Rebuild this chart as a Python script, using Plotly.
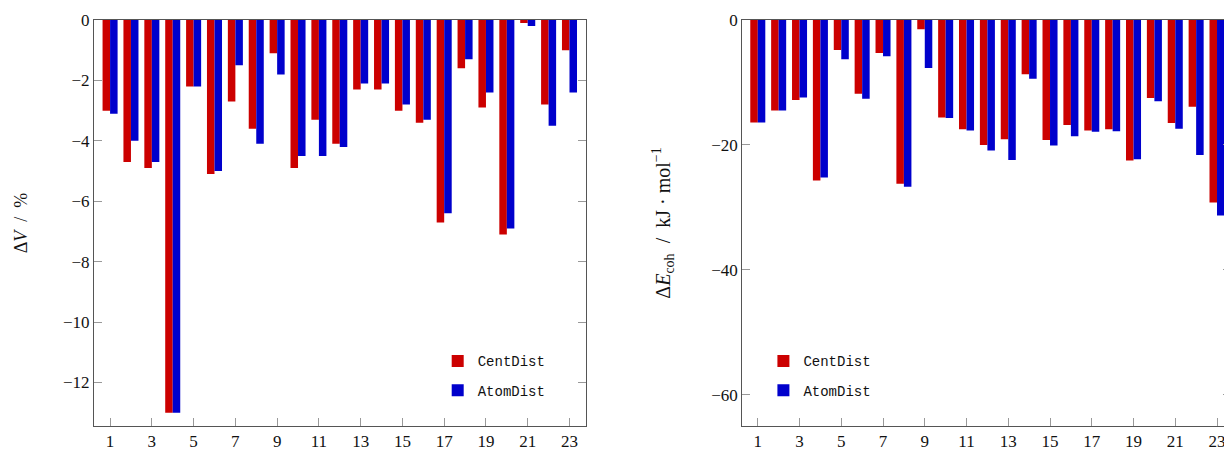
import plotly.graph_objects as go

categories = list(range(1, 24))
dv_cent = [-3.0, -4.7, -4.9, -13.0, -2.2, -5.1, -2.7, -3.6, -1.1, -4.9, -3.3, -4.1,
           -2.3, -2.3, -3.0, -3.4, -6.7, -1.6, -2.9, -7.1, -0.1, -2.8, -1.0]
dv_atom = [-3.1, -4.0, -4.7, -13.0, -2.2, -5.0, -1.5, -4.1, -1.8, -4.5, -4.5, -4.2,
           -2.1, -2.1, -2.8, -3.3, -6.4, -1.3, -2.4, -6.9, -0.2, -3.5, -2.4]
de_cent = [-16.4, -14.5, -12.8, -25.7, -4.8, -11.8, -5.3, -26.2, -1.5, -15.6, -17.5, -20.0,
           -19.1, -8.7, -19.2, -16.8, -17.7, -17.5, -22.5, -12.5, -16.5, -13.9, -29.2]
de_atom = [-16.4, -14.5, -12.4, -25.2, -6.3, -12.6, -5.8, -26.7, -7.7, -15.7, -17.7, -20.9,
           -22.4, -9.4, -20.1, -18.6, -17.9, -17.8, -22.3, -13.0, -17.4, -21.6, -31.3]
x_ticks = list(range(1, 24, 2))

RED = "#cc0000"
BLUE = "#0000cc"
FONT = "Liberation Serif"
MONO = "Liberation Mono"

fig = go.Figure()
fig.add_trace(go.Bar(x=categories, y=dv_cent, name="CentDist", marker=dict(color=RED, line=dict(width=0)),
                     xaxis="x", yaxis="y", legend="legend", legendgroup="a"))
fig.add_trace(go.Bar(x=categories, y=dv_atom, name="AtomDist", marker=dict(color=BLUE, line=dict(width=0)),
                     xaxis="x", yaxis="y", legend="legend", legendgroup="b"))
fig.add_trace(go.Bar(x=categories, y=de_cent, name="CentDist", marker=dict(color=RED, line=dict(width=0)),
                     xaxis="x2", yaxis="y2", legend="legend2", legendgroup="c"))
fig.add_trace(go.Bar(x=categories, y=de_atom, name="AtomDist", marker=dict(color=BLUE, line=dict(width=0)),
                     xaxis="x2", yaxis="y2", legend="legend2", legendgroup="d"))

axis_common = dict(showgrid=False, zeroline=False, showline=True, linecolor="#555555", linewidth=1,
                   ticks="inside", ticklen=8, tickcolor="#999999", tickwidth=1,
                   tickfont=dict(family=FONT, size=17, color="#111111"))

# page body has an 8px margin, so the figure is drawn at (8, 8)
OFF = 8
L, R, T, B = 94 - OFF, 0, 20 - OFF, 23
W, H = 1232 - OFF, 451 - OFF
pw = W - L - R
ph = H - T - B

fig.update_layout(
    width=W, height=H,
    margin=dict(l=L, r=R, t=T, b=B),
    paper_bgcolor="white", plot_bgcolor="white",
    barmode="group", bargap=0.28, bargroupgap=0,
    font=dict(family=FONT, color="#111111"),
    xaxis=dict(domain=[0, (586 - 94) / pw], range=[0.23, 23.77], tickvals=x_ticks, mirror=True,
               anchor="y", **axis_common),
    yaxis=dict(range=[-13.44, 0], dtick=2, mirror="ticks", anchor="x",
               title=dict(text="Δ<i>V</i>  /  %", font=dict(family=FONT, size=18), standoff=30),
               **axis_common),
    xaxis2=dict(domain=[(742.7 - 94) / pw, 1], range=[0.25, 23.67], tickvals=x_ticks, mirror=True,
                anchor="y2", **axis_common),
    yaxis2=dict(range=[-65, 0], dtick=20, mirror="ticks", anchor="x2",
                title=dict(text="Δ<i>E</i><sub>coh</sub>  /  kJ · mol<sup>−1</sup>",
                           font=dict(family=FONT, size=20), standoff=35),
                **axis_common),
    legend=dict(x=(438 - 94) / pw, y=(428 - 347) / ph, xanchor="left", yanchor="top",
                bgcolor="rgba(0,0,0,0)", font=dict(family=MONO, size=14),
                traceorder="grouped", tracegroupgap=8),
    legend2=dict(x=(764 - 94) / pw, y=(428 - 347) / ph, xanchor="left", yanchor="top",
                 bgcolor="rgba(0,0,0,0)", font=dict(family=MONO, size=14),
                 traceorder="grouped", tracegroupgap=8),
)

fig.write_html("out.html")
